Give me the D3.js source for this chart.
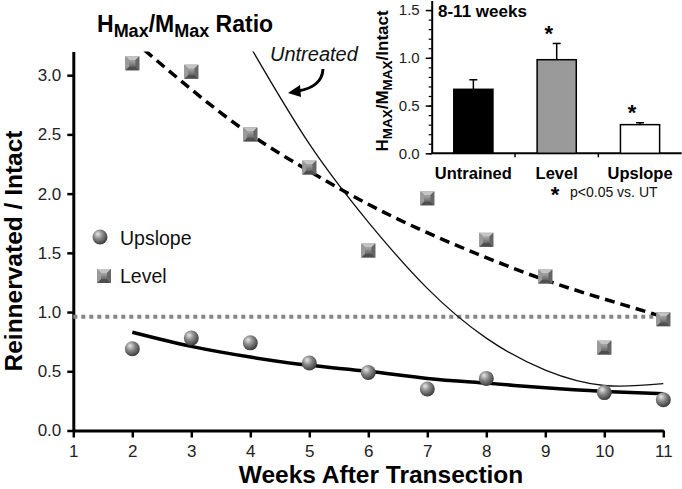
<!DOCTYPE html>
<html><head><meta charset="utf-8">
<script src="https://cdn.jsdelivr.net/npm/d3@7"></script>
<style>body{margin:0;background:#fff}svg{display:block;font-family:"Liberation Sans",Arial,sans-serif}</style>
</head><body><svg id="c" width="682" height="489"></svg>
<script>
// ---- main chart data ----
const weeks = [2,3,4,5,6,7,8,9,10,11];
const levelValues = [3.10,3.03,2.50,2.22,1.52,1.96,1.61,1.30,0.70,0.94];
const upslopeWeeks = [2,3,4,5,6,7,8,10,11];
const upslopeValues = [0.69,0.78,0.74,0.57,0.49,0.35,0.44,0.32,0.26];
const levelFit = [3.30,2.88,2.50,2.19,1.91,1.67,1.46,1.27,1.11,0.96];
const upslopeFit = [0.83,0.71,0.62,0.55,0.50,0.44,0.40,0.36,0.33,0.31];
const untreatedWeeks = [4,5,6,7,8,9,10,11];
const untreatedFit = [3.24,2.42,1.76,1.20,0.78,0.51,0.38,0.395];
const intactLevel = 0.96;
const xTicks = [1,2,3,4,5,6,7,8,9,10,11];
const yTicks = [0,0.5,1.0,1.5,2.0,2.5,3.0];
// ---- inset data ----
const insetCats = ["Untrained","Level","Upslope"];
const insetValues = [0.67,0.98,0.30];
const insetErrors = [0.10,0.17,0.02];
const insetSig = [false,true,true];
const insetTicks = [0,0.5,1.0,1.5];

const svg = d3.select("#c");
const defs = svg.append("defs");
// sphere gradient
const rg = defs.append("radialGradient").attr("id","sph").attr("cx","40%").attr("cy","35%").attr("r","65%").attr("fx","35%").attr("fy","30%");
rg.append("stop").attr("offset","0%").attr("stop-color","#e8e8e8");
rg.append("stop").attr("offset","45%").attr("stop-color","#8c8c8c");
rg.append("stop").attr("offset","100%").attr("stop-color","#3c3c3c");
const lg = defs.append("linearGradient").attr("id","sq").attr("x1","0").attr("y1","0").attr("x2","0").attr("y2","1");
lg.append("stop").attr("offset","0%").attr("stop-color","#a8a8a8");
lg.append("stop").attr("offset","100%").attr("stop-color","#6a6a6a");

const x = d3.scaleLinear().domain([1,11]).range([73.3,663.3]);
const y = d3.scaleLinear().domain([0,3.2]).range([430.5,51.5]);

defs.append("clipPath").attr("id","plotclip").append("rect")
  .attr("x",x(1)).attr("y",y(3.2)).attr("width",x(11)-x(1)+10).attr("height",y(0)-y(3.2));

// axes
const gx = svg.append("g").attr("transform",`translate(0,${y(0)})`)
  .call(d3.axisBottom(x).tickValues(xTicks).tickFormat(d3.format("d")).tickSize(7).tickSizeOuter(0).tickPadding(7));
const gy = svg.append("g").attr("transform",`translate(${x(1)},0)`)
  .call(d3.axisLeft(y).tickValues(yTicks).tickFormat(d3.format(".1f")).tickSize(6).tickSizeOuter(0).tickPadding(6));
[gx,gy].forEach(g=>{
  g.select(".domain").attr("stroke","#000").attr("stroke-width",3);
  g.selectAll(".tick line").attr("stroke","#000").attr("stroke-width",2.5);
  g.selectAll(".tick text").attr("font-size",17).attr("fill","#222").attr("font-family","Liberation Sans, Arial, sans-serif");
});

// axis titles
svg.append("text").attr("x",381).attr("y",483).attr("text-anchor","middle")
  .attr("font-size",24.5).attr("font-weight","bold").text("Weeks After Transection");
svg.append("text").attr("transform","translate(22,251) rotate(-90)").attr("text-anchor","middle")
  .attr("font-size",24.5).attr("font-weight","bold").text("Reinnervated / Intact");

// title
const tt = svg.append("text").attr("x",97).attr("y",32).attr("font-weight","bold").attr("font-size",23);
tt.append("tspan").text("H");
tt.append("tspan").attr("font-size",18).attr("dy",5).text("Max");
tt.append("tspan").attr("dy",-5).text("/M");
tt.append("tspan").attr("font-size",18).attr("dy",5).text("Max");
tt.append("tspan").attr("dy",-5).text(" Ratio");

// intact dotted line
svg.append("line").attr("x1",x(1)).attr("x2",x(11)).attr("y1",y(intactLevel)).attr("y2",y(intactLevel))
  .attr("stroke","#858585").attr("stroke-width",4).attr("stroke-dasharray","4,4");

const plot = svg.append("g").attr("clip-path","url(#plotclip)");
const line = d3.line().curve(d3.curveNatural).x(d=>x(d[0])).y(d=>y(d[1]));
plot.append("path").datum(untreatedWeeks.map((w,i)=>[w,untreatedFit[i]]))
  .attr("d",line).attr("fill","none").attr("stroke","#111").attr("stroke-width",1.3);
plot.append("path").datum(weeks.map((w,i)=>[w,levelFit[i]]))
  .attr("d",line).attr("fill","none").attr("stroke","#000").attr("stroke-width",3.5).attr("stroke-dasharray","10,6");
plot.append("path").datum(weeks.map((w,i)=>[w,upslopeFit[i]]))
  .attr("d",line).attr("fill","none").attr("stroke","#000").attr("stroke-width",3.5);

// markers
function square(g,cx,cy){
  const s=7;
  const m=g.append("g").attr("transform",`translate(${cx},${cy})`);
  m.append("rect").attr("x",-s).attr("y",-s).attr("width",2*s).attr("height",2*s).attr("fill","#7c7c7c");
  m.append("polygon").attr("points",`${-s},${-s} ${s},${-s} ${s-4},${-s+4} ${-s+4},${-s+4}`).attr("fill","#c4c4c4");
  m.append("polygon").attr("points",`${-s},${s} ${s},${s} ${s-4},${s-4} ${-s+4},${s-4}`).attr("fill","#4e4e4e");
  m.append("polygon").attr("points",`${-s},${-s} ${-s+4},${-s+4} ${-s+4},${s-4} ${-s},${s}`).attr("fill","#9a9a9a");
  m.append("polygon").attr("points",`${s},${-s} ${s-4},${-s+4} ${s-4},${s-4} ${s},${s}`).attr("fill","#666");
  m.append("rect").attr("x",-s+4).attr("y",-s+4).attr("width",2*s-8).attr("height",2*s-8).attr("fill","url(#sq)");
}
function sphere(g,cx,cy){
  g.append("circle").attr("cx",cx).attr("cy",cy).attr("r",7.5).attr("fill","url(#sph)");
}
const mk = svg.append("g");
weeks.forEach((w,i)=>square(mk,x(w),y(levelValues[i])));
upslopeWeeks.forEach((w,i)=>sphere(mk,x(w),y(upslopeValues[i])));

// legend
sphere(svg,100,237);
svg.append("text").attr("x",120).attr("y",245).attr("font-size",19.5).attr("fill","#111").text("Upslope");
square(svg,104,276);
svg.append("text").attr("x",120).attr("y",283).attr("font-size",19.5).attr("fill","#111").text("Level");

// Untreated annotation
svg.append("text").attr("x",270).attr("y",61).attr("font-size",20).attr("font-style","italic").attr("fill","#111").text("Untreated");
svg.append("path").attr("d","M323,69 Q322,87 298,91").attr("fill","none").attr("stroke","#000").attr("stroke-width",3);
svg.append("path").attr("d","M288,93 L300,85 L301,97 Z").attr("fill","#000");

// ---- inset ----
const iy = d3.scaleLinear().domain([0,1.6]).range([153.3,0.5]);
const ix = d3.scaleBand().domain(insetCats).range([431.7,681.7]).paddingInner(0.53).paddingOuter(0.265);
const iyMinor = svg.append("g").attr("transform","translate(431.7,0)")
  .call(d3.axisLeft(iy).tickValues(d3.range(0,16).map(d=>d/10)).tickSize(3).tickFormat("").tickSizeOuter(0));
iyMinor.selectAll(".tick line").attr("stroke","#000").attr("stroke-width",1.2);
iyMinor.select(".domain").remove();
const iya = svg.append("g").attr("transform","translate(431.7,0)")
  .call(d3.axisLeft(iy).tickValues(insetTicks).tickFormat(d3.format(".1f")).tickSize(6).tickSizeOuter(0).tickPadding(6));
iya.select(".domain").attr("stroke","#000").attr("stroke-width",2);
iya.selectAll(".tick line").attr("stroke","#000").attr("stroke-width",1.5);
iya.selectAll(".tick text").attr("font-size",15).attr("fill","#222").attr("font-family","Liberation Sans, Arial, sans-serif");

// inset x axis
svg.append("line").attr("x1",431.7).attr("x2",681.7).attr("y1",iy(0)).attr("y2",iy(0)).attr("stroke","#000").attr("stroke-width",2);
insetCats.forEach((c,i)=>{
  if(i>0){
    const bx = ix(c) - ix.step()*ix.paddingInner()/2;
    svg.append("line").attr("x1",bx).attr("x2",bx).attr("y1",iy(0)).attr("y2",iy(0)+4).attr("stroke","#000").attr("stroke-width",1.5);
  }
});
const fills = ["#000","#9a9a9a","#fff"];
insetCats.forEach((c,i)=>{
  const bx = ix(c), bw = ix.bandwidth(), cx = bx+bw/2;
  svg.append("line").attr("x1",cx).attr("x2",cx).attr("y1",iy(insetValues[i])).attr("y2",iy(insetValues[i]+insetErrors[i])).attr("stroke","#000").attr("stroke-width",1.5);
  svg.append("line").attr("x1",cx-4).attr("x2",cx+4).attr("y1",iy(insetValues[i]+insetErrors[i])).attr("y2",iy(insetValues[i]+insetErrors[i])).attr("stroke","#000").attr("stroke-width",1.5);
  svg.append("rect").attr("x",bx).attr("y",iy(insetValues[i])).attr("width",bw).attr("height",iy(0)-iy(insetValues[i]))
    .attr("fill",fills[i]).attr("stroke","#000").attr("stroke-width",1.5);
  svg.append("text").attr("x",cx).attr("y",178.5).attr("text-anchor","middle").attr("font-size",16.5).attr("font-weight","bold").text(c);
  if(insetSig[i]){
    svg.append("text").attr("x",cx-8).attr("y",iy(insetValues[i]+insetErrors[i])-16).attr("text-anchor","middle")
      .attr("font-size",22).attr("font-weight","bold").attr("dy","0.62em").text("*");
  }
});
svg.append("text").attr("x",438).attr("y",17).attr("font-size",17).attr("font-weight","bold").text("8-11 weeks");
svg.append("text").attr("x",555).attr("y",202).attr("text-anchor","middle").attr("font-size",22).attr("font-weight","bold").text("*");
svg.append("text").attr("x",570).attr("y",197).attr("font-size",14).attr("fill","#111").text("p<0.05 vs. UT");
const it = svg.append("text").attr("transform","translate(388,81) rotate(-90)").attr("text-anchor","middle")
  .attr("font-weight","bold").attr("font-size",17);
it.append("tspan").text("H");
it.append("tspan").attr("font-size",13.5).attr("dy",4).text("MAX");
it.append("tspan").attr("dy",-4).text("/M");
it.append("tspan").attr("font-size",13.5).attr("dy",4).text("MAX");
it.append("tspan").attr("dy",-4).text("/Intact");
</script></body></html>
